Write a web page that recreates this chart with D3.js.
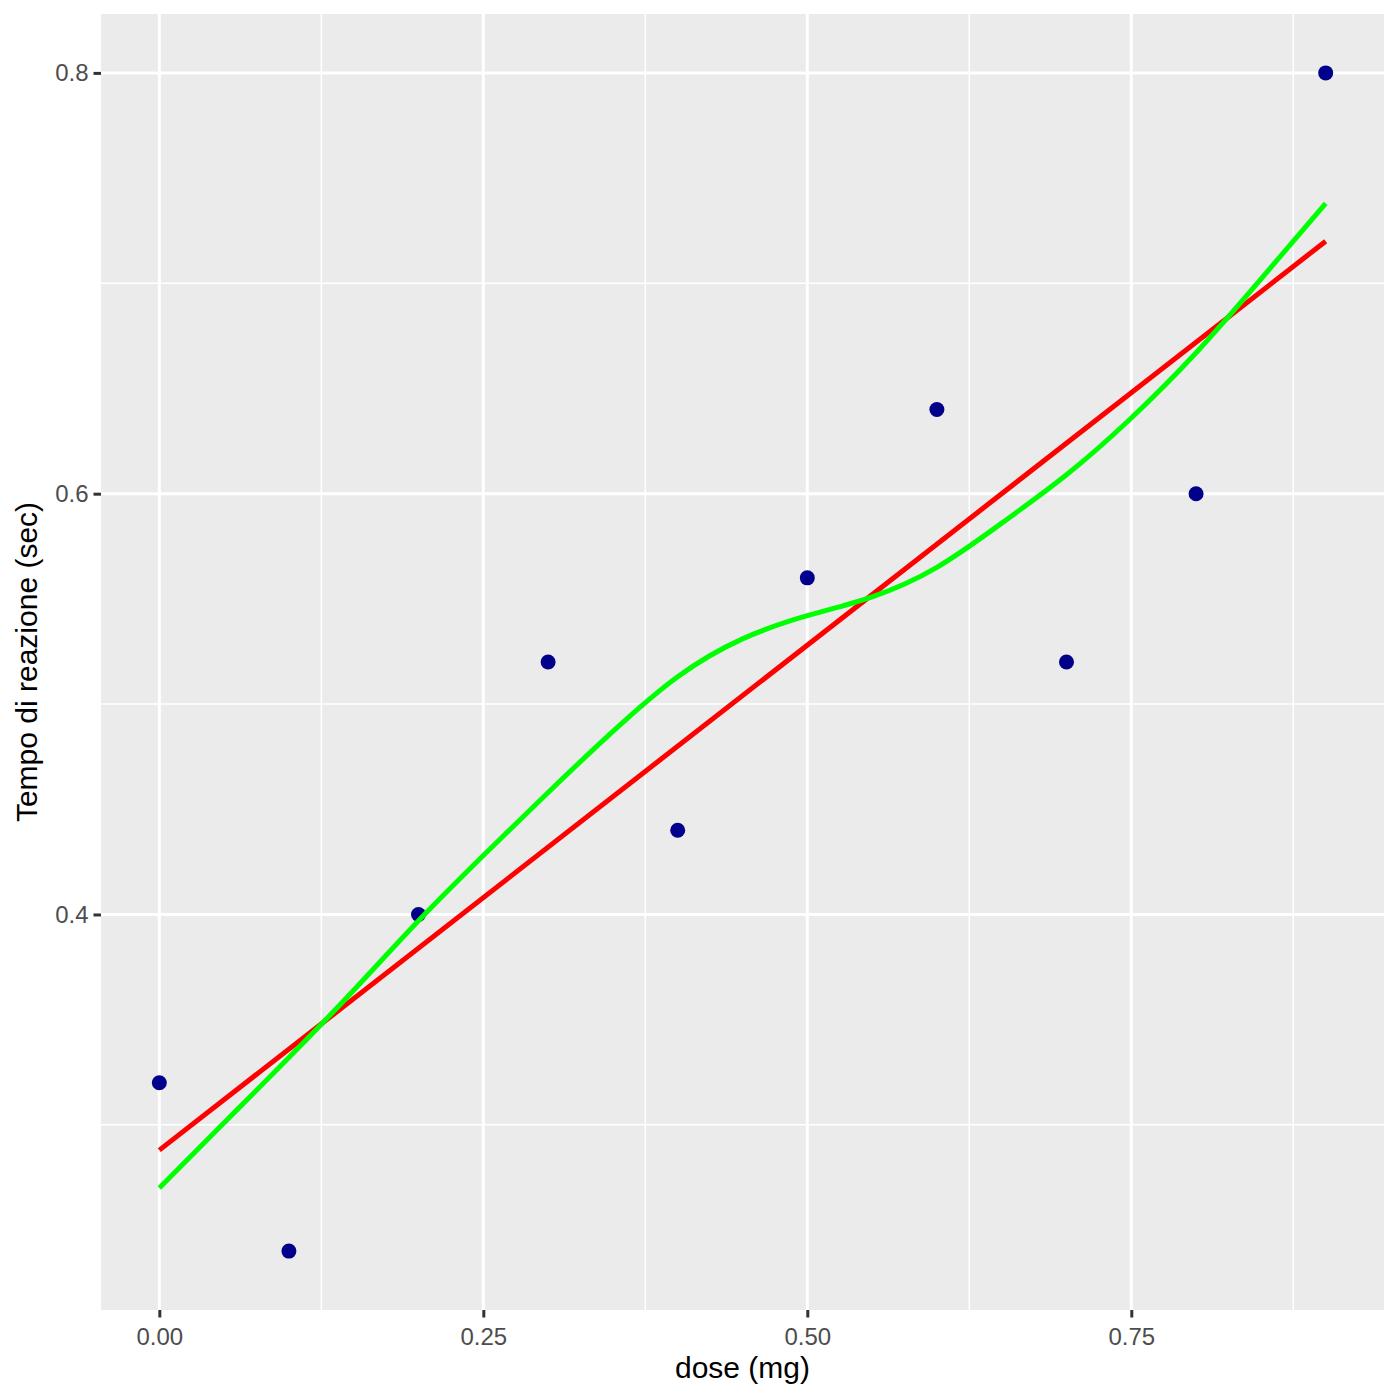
<!DOCTYPE html>
<html><head><meta charset="utf-8">
<script src="https://cdn.jsdelivr.net/npm/d3@7"></script>
<style>body{margin:0;background:#fff}</style>
</head><body>
<script>
const doseValues = [0, 0.1, 0.2, 0.3, 0.4, 0.5, 0.6, 0.7, 0.8, 0.9];
const reactionTimes = [0.32, 0.24, 0.40, 0.52, 0.44, 0.56, 0.64, 0.52, 0.60, 0.80];
const smoothX = [0, 0.05, 0.1, 0.15, 0.2, 0.25, 0.3, 0.35, 0.4, 0.45, 0.5, 0.55, 0.6, 0.65, 0.7, 0.75, 0.8, 0.85, 0.9];
const smoothY = [0.270, 0.301, 0.332, 0.364, 0.397, 0.428, 0.458, 0.487, 0.513, 0.531, 0.542, 0.551, 0.565, 0.586, 0.609, 0.636, 0.667, 0.702, 0.738];
const xTicks = [0, 0.25, 0.5, 0.75];
const xMinor = [0.125, 0.375, 0.625, 0.875];
const yTicks = [0.4, 0.6, 0.8];
const yMinor = [0.3, 0.5, 0.7];

const W = 1400, H = 1400;
const panel = {left: 101, right: 1384, top: 14, bottom: 1310};

const svg = d3.select("body").append("svg").attr("width", W).attr("height", H)
  .style("font-family", "'Liberation Sans', Arial, sans-serif");

const xExt = d3.extent(doseValues), yExt = d3.extent(reactionTimes);
const xPad = (xExt[1] - xExt[0]) * 0.05, yPad = (yExt[1] - yExt[0]) * 0.05;
const x = d3.scaleLinear().domain([xExt[0] - xPad, xExt[1] + xPad]).range([panel.left, panel.right]);
const y = d3.scaleLinear().domain([yExt[0] - yPad, yExt[1] + yPad]).range([panel.bottom, panel.top]);

svg.append("rect").attr("x", panel.left).attr("y", panel.top)
  .attr("width", panel.right - panel.left).attr("height", panel.bottom - panel.top).attr("fill", "#EBEBEB");

const g = svg.append("g");
g.selectAll(".xmin").data(xMinor).join("line").attr("x1", d => x(d)).attr("x2", d => x(d))
  .attr("y1", panel.top).attr("y2", panel.bottom).attr("stroke", "#fff").attr("stroke-width", 1.5);
g.selectAll(".ymin").data(yMinor).join("line").attr("y1", d => y(d)).attr("y2", d => y(d))
  .attr("x1", panel.left).attr("x2", panel.right).attr("stroke", "#fff").attr("stroke-width", 1.5);
g.selectAll(".xmaj").data(xTicks).join("line").attr("x1", d => x(d)).attr("x2", d => x(d))
  .attr("y1", panel.top).attr("y2", panel.bottom).attr("stroke", "#fff").attr("stroke-width", 3);
g.selectAll(".ymaj").data(yTicks).join("line").attr("y1", d => y(d)).attr("y2", d => y(d))
  .attr("x1", panel.left).attr("x2", panel.right).attr("stroke", "#fff").attr("stroke-width", 3);

// axes
const xAxis = d3.axisBottom(x).tickValues(xTicks).tickFormat(d3.format(".2f")).tickSize(7.5).tickPadding(5);
const yAxis = d3.axisLeft(y).tickValues(yTicks).tickFormat(d3.format(".1f")).tickSize(7.5).tickPadding(5);
const gx = svg.append("g").attr("transform", `translate(0,${panel.bottom})`).call(xAxis);
const gy = svg.append("g").attr("transform", `translate(${panel.left},0)`).call(yAxis);
[gx, gy].forEach(a => {
  a.select(".domain").remove();
  a.selectAll(".tick line").attr("stroke", "#333").attr("stroke-width", 3);
  a.selectAll(".tick text").attr("fill", "#4D4D4D").style("font-size", "24px");
});
gx.selectAll(".tick text").attr("dy", "0.95em");

// points
svg.append("g").selectAll("circle").data(doseValues).join("circle")
  .attr("cx", d => x(d)).attr("cy", (d, i) => y(reactionTimes[i])).attr("r", 7.5).attr("fill", "#00008B");

// linear regression (computed from data, as geom_smooth(method = "lm"))
const mx = d3.mean(doseValues), my = d3.mean(reactionTimes);
const slope = d3.sum(doseValues, (d, i) => (d - mx) * (reactionTimes[i] - my)) / d3.sum(doseValues, d => (d - mx) ** 2);
const icpt = my - slope * mx;
const lineData = xExt.map(v => [v, icpt + slope * v]);
svg.append("path").datum(lineData).attr("fill", "none").attr("stroke", "#FF0000").attr("stroke-width", 5)
  .attr("d", d3.line().x(d => x(d[0])).y(d => y(d[1])));

// smooth curve
const smoothData = smoothX.map((v, i) => [v, smoothY[i]]);
svg.append("path").datum(smoothData).attr("fill", "none").attr("stroke", "#00FF00").attr("stroke-width", 5)
  .attr("d", d3.line().curve(d3.curveNatural).x(d => x(d[0])).y(d => y(d[1])));

// titles
svg.append("text").attr("x", (panel.left + panel.right) / 2).attr("y", 1378).attr("text-anchor", "middle")
  .style("font-size", "30px").attr("fill", "#000").text("dose (mg)");
svg.append("text").attr("transform", `translate(37,${(panel.top + panel.bottom) / 2}) rotate(-90)`)
  .attr("text-anchor", "middle").style("font-size", "30px").attr("fill", "#000").text("Tempo di reazione (sec)");
</script>
</body></html>
